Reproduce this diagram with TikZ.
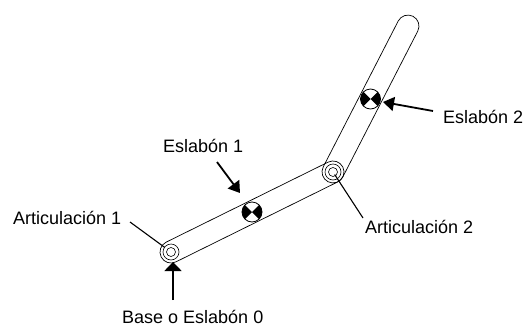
\documentclass[tikz,border=0pt]{standalone}
\usepackage{fontspec}
\setmainfont{Liberation Sans}
\usetikzlibrary{arrows.meta}

\tikzset{
  linkbar/.style={draw, rectangle, rounded corners=11pt, minimum height=22pt, inner sep=0pt, line width=0.7pt},
  tag/.style={anchor=base west, inner sep=0pt, font=\fontsize{18}{20}\selectfont},
  pointer/.style={line width=1.8pt, -{Triangle[width=14pt,length=11pt]}},
  leader/.style={line width=1.1pt},
}

% joint: two concentric circles
\newcommand\joint[1]{
  \draw[line width=0.6pt] (#1) circle (4.5pt);
  \draw[line width=0.6pt] (#1) circle (8pt);
}
% centre of mass symbol
\newcommand\masscentre[1]{
  \fill[white] (#1) circle (10pt);
  \fill (#1) -- ++(-45:10pt) arc[start angle=-45, end angle=45, radius=10pt] -- cycle;
  \fill (#1) -- ++(135:10pt) arc[start angle=135, end angle=225, radius=10pt] -- cycle;
  \draw[line width=0.8pt] (#1) circle (10pt);
}

\begin{document}
\begin{tikzpicture}[x=1pt, y=-1pt]
  \useasboundingbox (0,0) rectangle (527,327);

  % joints and link ends
  \coordinate (j1) at (171,252);
  \coordinate (j2) at (333,172);
  \coordinate (com1) at (252,212);
  \coordinate (com2) at (370.5,99);

  % the two links
  \node[linkbar, minimum width=202.7pt, rotate=26.3] (link1) at (com1) {};
  \node[linkbar, minimum width=186pt, rotate=62.8] (link2) at (com2) {};

  \joint{j1}
  \joint{j2}
  \masscentre{com1}
  \masscentre{com2}

  % labels
  \node[tag] (art1) at (13,224) {Articulación 1};
  \node[tag] (esl1) at (163,152) {Eslabón 1};
  \node[tag] (esl2) at (443,123) {Eslabón 2};
  \node[tag] (art2) at (365,233) {Articulación 2};
  \node[tag] (base) at (122,323) {Base o Eslabón 0};

  % connector ends
  \coordinate (art1 tail) at (130,222);
  \coordinate (art2 tail) at (363,218);
  \coordinate (esl1 tail) at (217,162);
  \coordinate (esl1 tip) at (240,193);
  \coordinate (esl2 tail) at (433,111);
  \coordinate (esl2 tip) at (383,102);
  \coordinate (base tail) at (173,300);
  \coordinate (base tip) at (173,262);

  \draw[leader, shorten >=8pt] (art1 tail) -- (j1);
  \draw[leader, shorten >=3pt] (art2 tail) -- (j2);
  \draw[pointer] (esl1 tail) -- (esl1 tip);
  \draw[pointer] (esl2 tail) -- (esl2 tip);
  \draw[line width=1.8pt, -{Triangle[width=17pt,length=9pt]}] (base tail) -- (base tip);
\end{tikzpicture}
\end{document}
